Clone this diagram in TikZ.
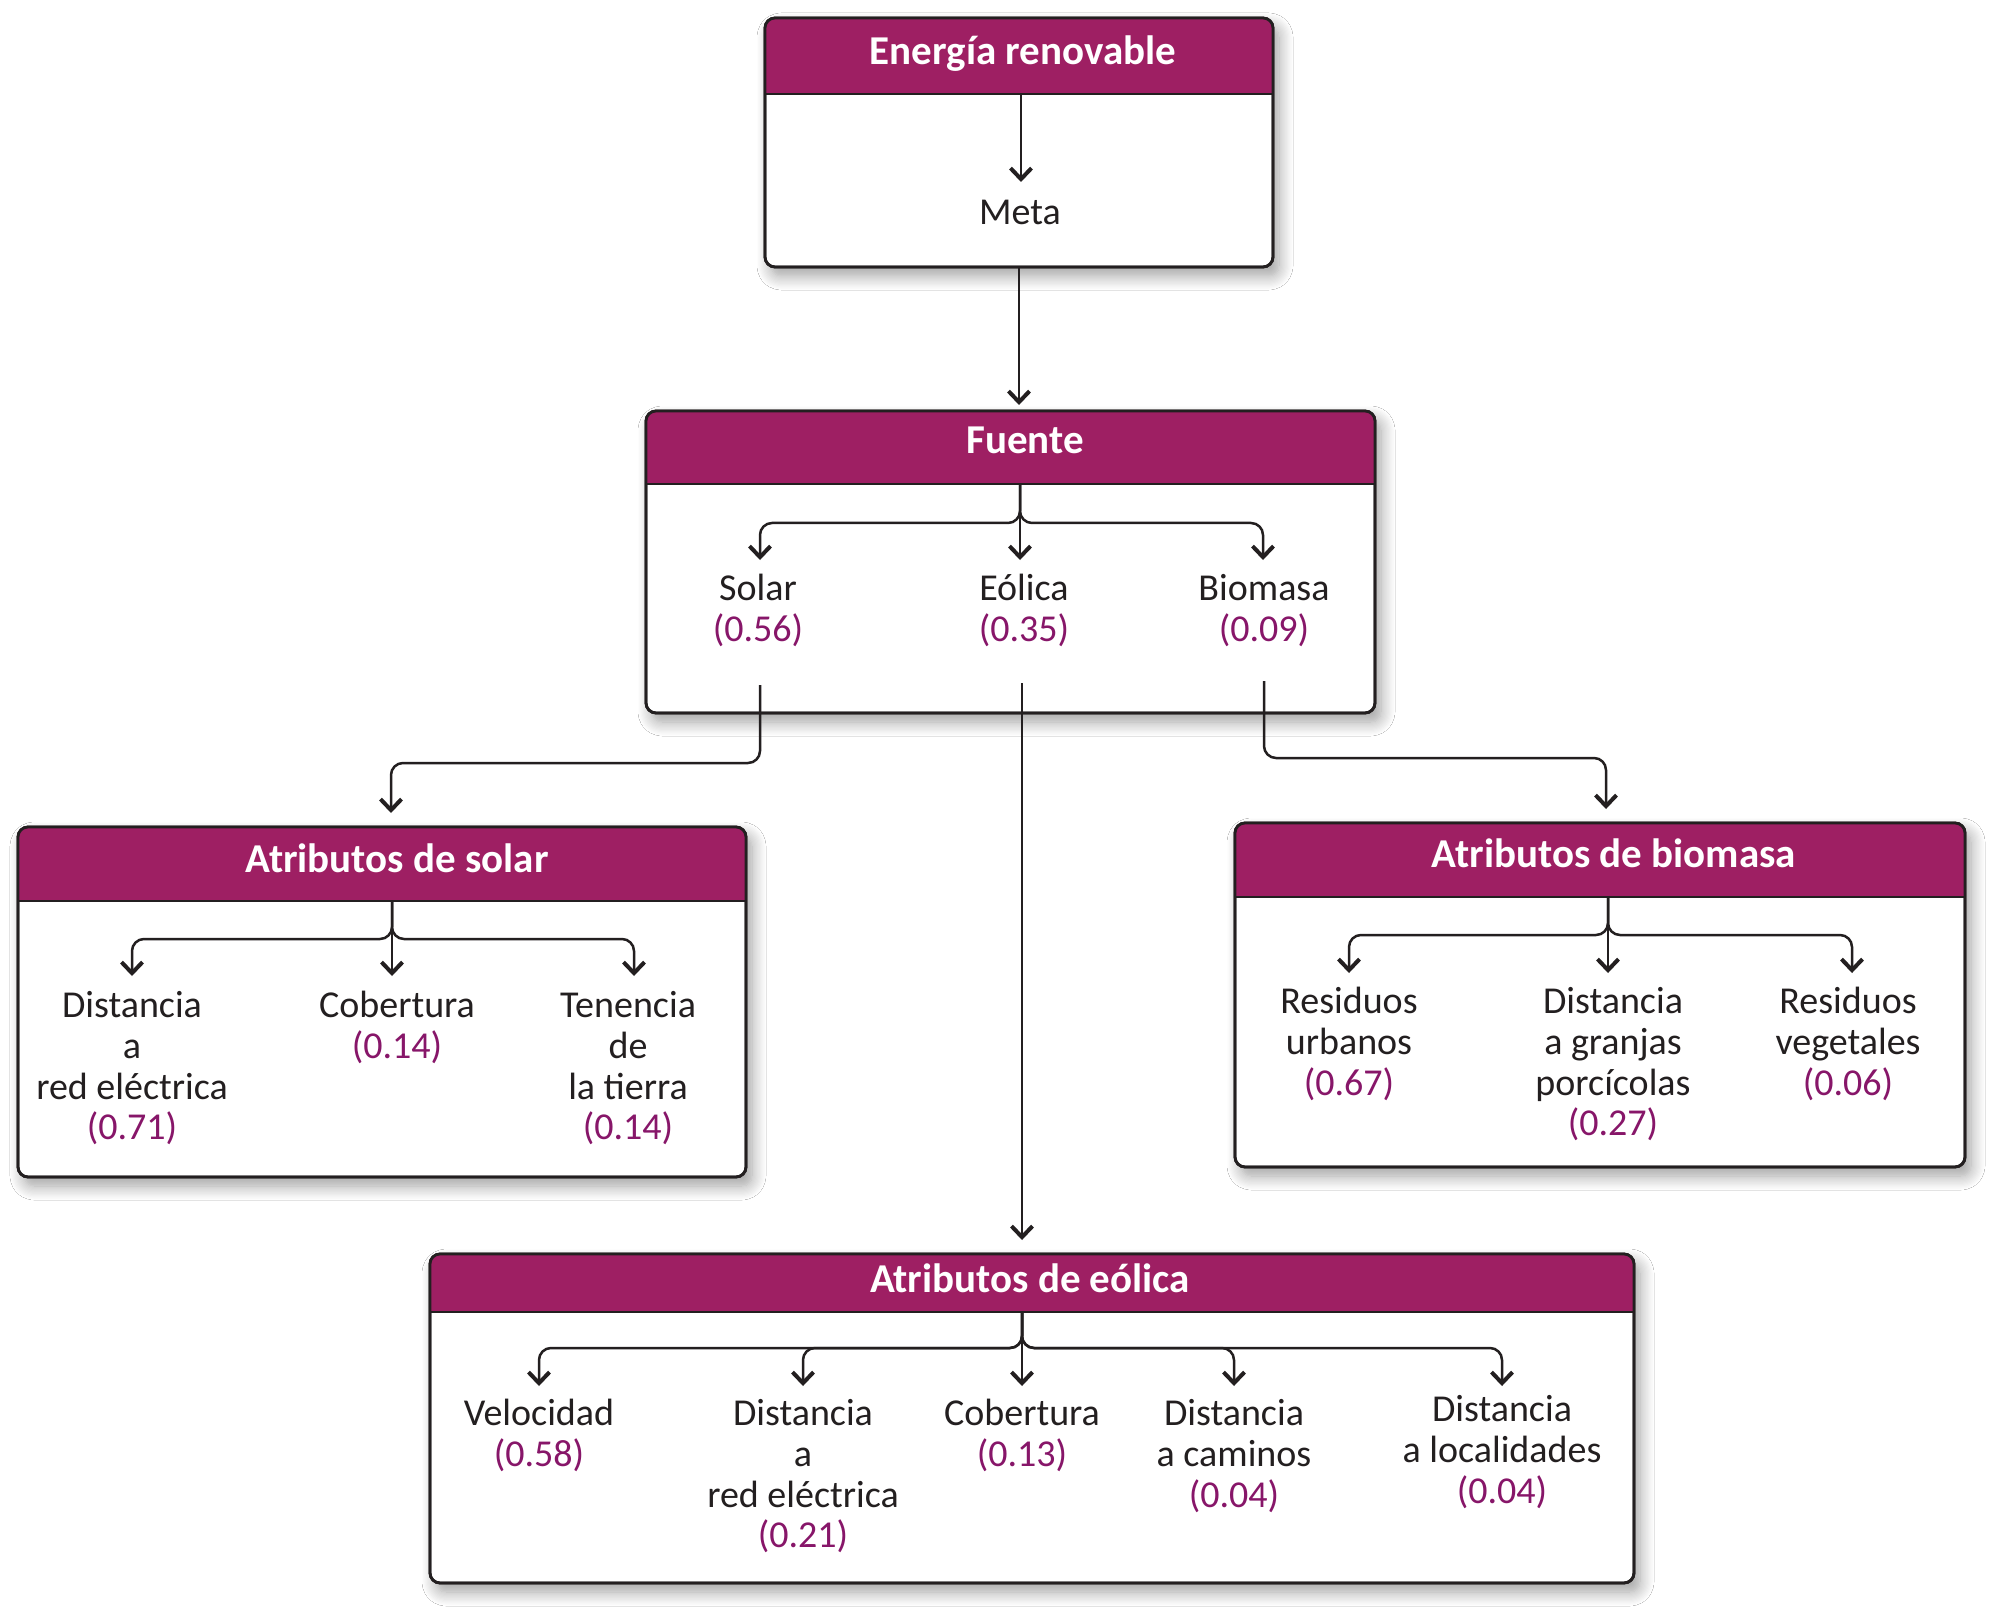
\documentclass[tikz,border=0pt]{standalone}
\usepackage{fontspec}
\setmainfont{Carlito}
\usetikzlibrary{arrows.meta,shadows.blur,calc}
\definecolor{hdrc}{RGB}{158,31,99}
\definecolor{valc}{RGB}{135,22,105}
\definecolor{linec}{RGB}{35,31,32}
\newcommand{\wval}[1]{\textcolor{valc}{#1}}
\newcommand{\fl}{\rule{0pt}{16pt}}
\tikzset{
  panel/.style={draw=linec, line width=1.4pt, fill=white, rounded corners=5pt, inner sep=0pt, outer sep=0pt,
    blur shadow={shadow xshift=3pt, shadow yshift=-4.5pt, shadow blur radius=7pt, shadow blur steps=12, shadow opacity=38}},
  bline/.style={draw=linec, line width=1.4pt},
  conn/.style={draw=linec, line width=1.25pt, -{Straight Barb[length=5.5pt,width=10.5pt,line width=2pt]}},
  branch/.style={conn, rounded corners=6pt},
  ttl/.style={anchor=base, text=white, inner sep=0pt, font=\bfseries\fontsize{20.5}{24}\selectfont},
  lbl/.style={anchor=north, align=center, inner sep=0pt, text=linec, font=\fontsize{19}{20.4}\selectfont},
}
\newcommand{\mkpanel}[6]{%
  \node[panel, minimum width=#4, minimum height=#5] (#1) at (#2,#3) {};
  \begin{scope}
    \clip[rounded corners=5pt] (#1.north west) rectangle (#1.south east);
    \fill[hdrc] (#1.north west) rectangle ([yshift=-#6]#1.north east);
  \end{scope}
  \draw[bline] ([yshift=-#6]#1.north west) -- ([yshift=-#6]#1.north east);
  \draw[bline, rounded corners=5pt] (#1.north west) rectangle (#1.south east);
}
\begin{document}
\begin{tikzpicture}[x=0.5pt,y=-0.5pt]
\fill[white] (0,0) rectangle (2001,1620);
\useasboundingbox (0,0) rectangle (2001,1620);

% panels
\mkpanel{b1}{1019}{142.5}{254pt}{124.5pt}{38pt}
\mkpanel{b2}{1010.5}{562}{364.5pt}{151pt}{36.5pt}
\mkpanel{b3}{382}{1002}{364pt}{175pt}{37pt}
\mkpanel{b4}{1600}{995}{365pt}{172pt}{37pt}
\mkpanel{b5}{1032}{1418.5}{602pt}{164.5pt}{29pt}

% titles
\node[ttl] (t1) at (1023,65) {Energía renovable};
\node[ttl] (t2) at (1025,454) {Fuente};
\node[ttl] (t3) at (397,872) {Atributos de solar};
\node[ttl] (t4) at (1614,867) {Atributos de biomasa};
\node[ttl] (t5) at (1030,1292) {Atributos de eólica};

% box 1
\node[anchor=base, inner sep=0pt, text=linec, font=\fontsize{19}{20.4}\selectfont] (meta) at (1020,225) {Meta};
\coordinate (h1) at (1021,94);
\coordinate (m1) at (1021,182);
\draw[conn] (h1) -- (m1);

% box 2 labels
\node[lbl] (sol) at (758,568) {\fl Solar\\\wval{(0.56)}};
\node[lbl] (eol) at (1024,568) {\fl Eólica\\\wval{(0.35)}};
\node[lbl] (bio) at (1264,568) {\fl Biomasa\\\wval{(0.09)}};
\coordinate (h2) at (1020,484);
\coordinate (t2a) at (760,560);
\coordinate (t2b) at (1020,560);
\coordinate (t2c) at (1263,560);
\draw[branch] (h2) -- ++(0,39) -| (t2a);
\draw[branch] (h2) -- ++(0,39) -| (t2c);
\draw[conn] (h2) -- (t2b);

% box 3 labels
\node[lbl] (d1) at (132,985) {\fl Distancia\\a\\red eléctrica\\\wval{(0.71)}};
\node[lbl] (c1) at (397,985) {\fl Cobertura\\\wval{(0.14)}};
\node[lbl] (tn) at (628,985) {\fl Tenencia\\de\\la tierra\\\wval{(0.14)}};
\coordinate (h3) at (392,901);
\coordinate (t3a) at (132,976);
\coordinate (t3b) at (392,976);
\coordinate (t3c) at (634,976);
\draw[branch] (h3) -- ++(0,38) -| (t3a);
\draw[branch] (h3) -- ++(0,38) -| (t3c);
\draw[conn] (h3) -- (t3b);

% box 4 labels
\node[lbl] (ru) at (1349,981) {\fl Residuos\\urbanos\\\wval{(0.67)}};
\node[lbl] (dg) at (1613,981) {\fl Distancia\\a granjas\\porcícolas\\\wval{(0.27)}};
\node[lbl] (rv) at (1848,981) {\fl Residuos\\vegetales\\\wval{(0.06)}};
\coordinate (h4) at (1608,897);
\coordinate (t4a) at (1349,973);
\coordinate (t4b) at (1608,973);
\coordinate (t4c) at (1852,973);
\draw[branch] (h4) -- ++(0,38) -| (t4a);
\draw[branch] (h4) -- ++(0,38) -| (t4c);
\draw[conn] (h4) -- (t4b);

% box 5 labels
\node[lbl] (vel) at (539,1393) {\fl Velocidad\\\wval{(0.58)}};
\node[lbl] (dre) at (803,1393) {\fl Distancia\\a\\red eléctrica\\\wval{(0.21)}};
\node[lbl] (c2) at (1022,1393) {\fl Cobertura\\\wval{(0.13)}};
\node[lbl] (dca) at (1234,1393) {\fl Distancia\\a caminos\\\wval{(0.04)}};
\node[lbl] (dlo) at (1502,1389) {\fl Distancia\\a localidades\\\wval{(0.04)}};
\coordinate (h5) at (1022,1312);
\coordinate (t5a) at (539,1386);
\coordinate (t5b) at (803,1386);
\coordinate (t5c) at (1022,1386);
\coordinate (t5d) at (1234,1386);
\coordinate (t5e) at (1502,1386);
\draw[branch] (h5) -- ++(0,36) -| (t5a);
\draw[branch] (h5) -- ++(0,36) -| (t5b);
\draw[branch] (h5) -- ++(0,36) -| (t5d);
\draw[branch] (h5) -- ++(0,36) -| (t5e);
\draw[conn] (h5) -- (t5c);

% connectors between panels
\coordinate (f1) at (1019,405);
\draw[conn] (b1.south) -- (f1);
\coordinate (s0) at (760,685);
\coordinate (s1) at (391,813);
\draw[branch] (s0) -- ++(0,78) -| (s1);
\coordinate (e0) at (1022,683);
\coordinate (e1) at (1022,1240);
\draw[conn] (e0) -- (e1);
\coordinate (bi0) at (1264,681);
\coordinate (bi1) at (1606,809);
\draw[branch] (bi0) -- ++(0,77) -| (bi1);
\end{tikzpicture}
\end{document}
